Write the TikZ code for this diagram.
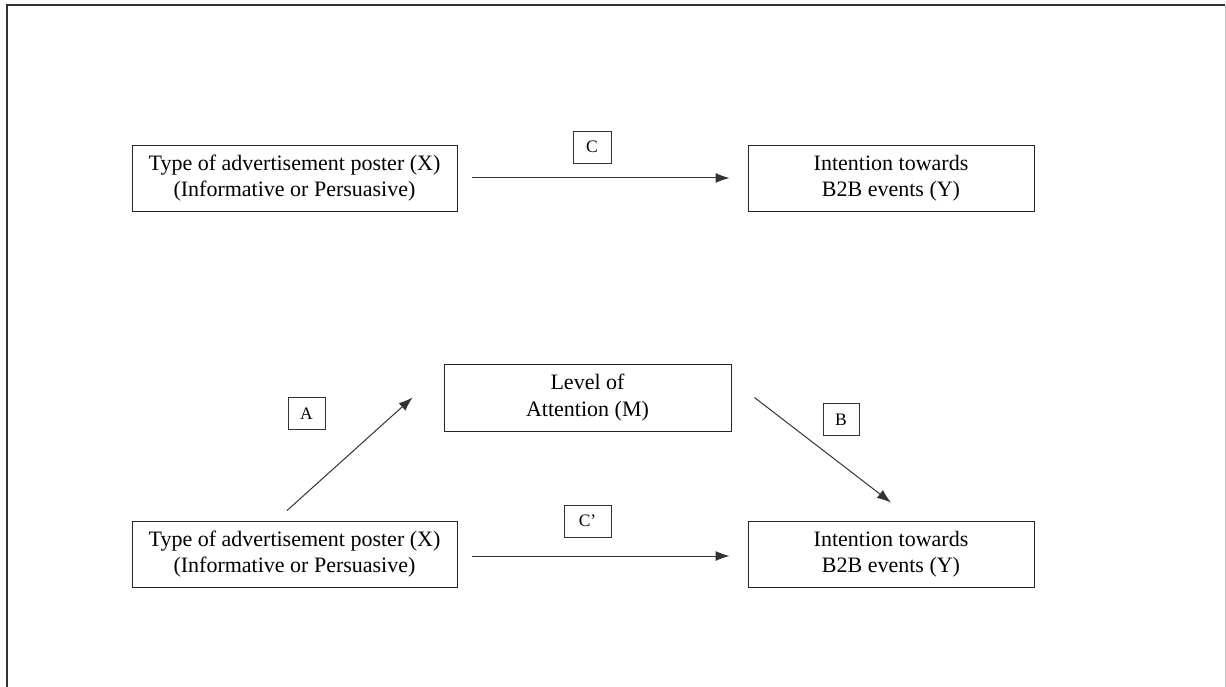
\documentclass[tikz,border=0pt]{standalone}
\usepackage{fontspec}
\setmainfont{Liberation Serif}
\usetikzlibrary{arrows.meta}
\begin{document}
\begin{tikzpicture}[x=1pt,y=-1pt,
  mainbox/.style={draw=black!85, line width=0.9pt, inner sep=0pt, align=center,
    minimum width=325pt, minimum height=66pt, font=\fontsize{22}{26.5}\selectfont},
  tagbox/.style={draw=black!80, line width=0.9pt, inner sep=0pt,
    minimum height=32pt, font=\fontsize{17.5}{20}\selectfont},
  arr/.style={draw=black!80, line width=1pt, -{Latex[length=14pt,width=10pt]}}]
\useasboundingbox (0,0) rectangle (1226,687);
% outer frame
\draw[line width=2pt, black!80] (7,687) -- (7,5) -- (1225,5);
\draw[line width=1pt, black!25] (1225,5) -- (1225,687);
% top model
\node[mainbox] (x1) at (294.5,178) {Type of advertisement poster (X)\\(Informative or Persuasive)};
\node[mainbox, minimum width=286pt] (y1) at (891,178) {Intention towards\\B2B events (Y)};
\node[tagbox, minimum width=38pt] (c) at (592,147) {C};
\draw[arr, shorten <=15pt, shorten >=18pt] (x1.east) -- (y1.west);
% bottom model
\node[mainbox, minimum width=287pt, minimum height=67pt] (m) at (587.5,397.5) {Level of\\Attention (M)};
\node[mainbox] (x2) at (294.5,554) {Type of advertisement poster (X)\\(Informative or Persuasive)};
\node[mainbox, minimum width=286pt] (y2) at (891,554) {Intention towards\\B2B events (Y)};
\node[tagbox, minimum width=37pt] (a) at (306.5,413.5) {A};
\node[tagbox, minimum width=36pt] (b) at (841,419.5) {B};
\node[tagbox, minimum width=47pt] (cp) at (587.5,521) {C’};
\draw[arr] ([xshift=-7.5pt,yshift=10pt]x2.north) -- ([xshift=-31pt]m.west);
\draw[arr] ([xshift=23pt]m.east) -- ([yshift=18pt]y2.north);
\draw[arr, shorten <=15pt, shorten >=18pt] ([yshift=-2pt]x2.east) -- ([yshift=-2pt]y2.west);
\end{tikzpicture}
\end{document}
